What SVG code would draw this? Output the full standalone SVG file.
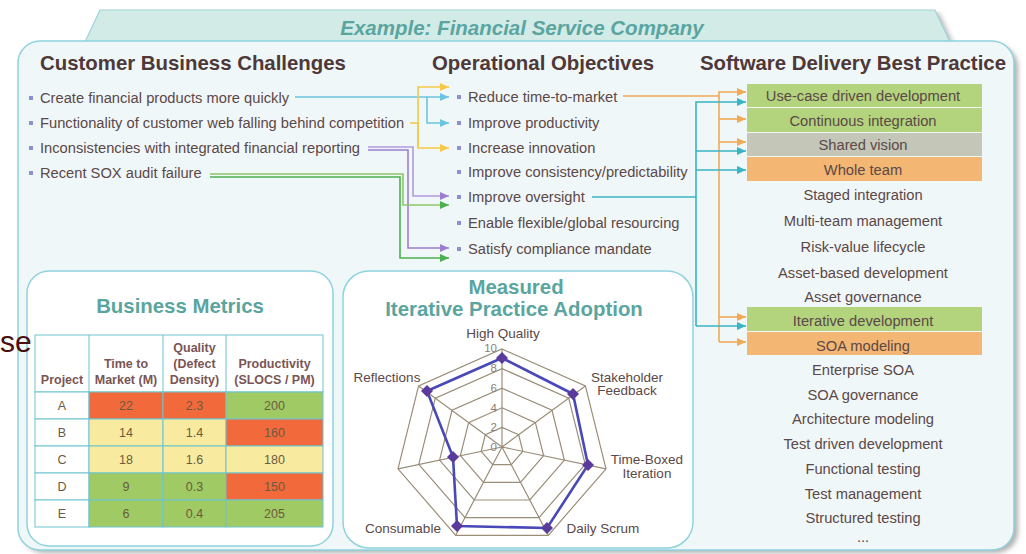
<svg xmlns="http://www.w3.org/2000/svg" width="1026" height="554" viewBox="0 0 1026 554">
<defs>
<style>
.t{font-family:"Liberation Sans",Arial,sans-serif;fill:#5b4848;font-size:14.7px}
.h{font-family:"Liberation Sans",Arial,sans-serif;font-weight:bold;font-size:20.4px;fill:#4e3838}
.c{text-anchor:middle}
.ti{font-family:"Liberation Sans",Arial,sans-serif;font-weight:bold;fill:#5aa5a0;text-anchor:middle}
.b{fill:#8c8fd0}
.th{font-family:"Liberation Sans",Arial,sans-serif;font-weight:bold;font-size:12.5px;fill:#7a5555;text-anchor:middle}
.tv{font-family:"Liberation Sans",Arial,sans-serif;font-size:12.5px;fill:#6b5a3f;text-anchor:middle}
.cell{stroke:#6cc4cf;stroke-width:1}
.r{fill:#f26a3c}.y{fill:#f8eba0}.g{fill:#a0cb64}.w{fill:#ffffff}
.grid{fill:none;stroke:#9a8e78;stroke-width:1.2}
.ax{font-family:"Liberation Sans",Arial,sans-serif;font-size:13.5px;fill:#5b4848;text-anchor:middle}
.sc{font-family:"Liberation Sans",Arial,sans-serif;font-size:11.5px;fill:#8a7f78;text-anchor:end}
.ln{fill:none;stroke-width:1.6}
.blue{stroke:#6cc5e0}.yel{stroke:#f7c948}.pur{stroke:#9c7fd0}.pur2{stroke:#b09ae0}.grn{stroke:#4cb050}.grn2{stroke:#8cc868}.org{stroke:#f0a955}.teal{stroke:#38b4c4}
.pt{fill:#5a3a9a}
</style>
<marker id="aB" viewBox="0 0 9 8" refX="9" refY="4" markerWidth="9" markerHeight="8" markerUnits="userSpaceOnUse" orient="auto"><path d="M0,0 L9,4 L0,8 z" fill="#6cc5e0"/></marker>
<marker id="aY" viewBox="0 0 9 8" refX="9" refY="4" markerWidth="9" markerHeight="8" markerUnits="userSpaceOnUse" orient="auto"><path d="M0,0 L9,4 L0,8 z" fill="#f7c948"/></marker>
<marker id="aP" viewBox="0 0 9 8" refX="9" refY="4" markerWidth="9" markerHeight="8" markerUnits="userSpaceOnUse" orient="auto"><path d="M0,0 L9,4 L0,8 z" fill="#9c7fd0"/></marker>
<marker id="aG" viewBox="0 0 9 8" refX="9" refY="4" markerWidth="9" markerHeight="8" markerUnits="userSpaceOnUse" orient="auto"><path d="M0,0 L9,4 L0,8 z" fill="#4cb050"/></marker>
<marker id="aO" viewBox="0 0 9 8" refX="9" refY="4" markerWidth="9" markerHeight="8" markerUnits="userSpaceOnUse" orient="auto"><path d="M0,0 L9,4 L0,8 z" fill="#f0a955"/></marker>
<marker id="aT" viewBox="0 0 9 8" refX="9" refY="4" markerWidth="9" markerHeight="8" markerUnits="userSpaceOnUse" orient="auto"><path d="M0,0 L9,4 L0,8 z" fill="#38b4c4"/></marker>
<filter id="sh" x="-5%" y="-5%" width="110%" height="110%"><feGaussianBlur stdDeviation="2.5"/></filter>
</defs>
<rect width="1026" height="554" fill="#ffffff"/>

<!-- tab -->
<g id="tab">
<path d="M104,13 L939,13 L954,45 L89,45 Z" fill="#b8b8b8" filter="url(#sh)"/>
<path d="M100,10 L935,10 L950,42 L85,42 Z" fill="#d3ebe7" stroke="#9fd3dc" stroke-width="1.2"/>
<text x="522" y="35" class="ti" font-style="italic" font-size="20.5">Example: Financial Service Company</text>
</g>

<!-- main panel -->
<g id="panel">
<rect x="22" y="45" width="996" height="508" rx="22" fill="#b0b0b0" filter="url(#sh)"/>
<rect x="18" y="41" width="996" height="509" rx="22" fill="#f0f7f8" stroke="#8fd3de" stroke-width="1.5"/>
</g>

<!-- headers -->
<text x="40" y="70" class="h">Customer Business Challenges</text>
<text x="432" y="70" class="h">Operational Objectives</text>
<text x="700" y="70" class="h">Software Delivery Best Practice</text>

<!-- challenges -->
<g id="challenges">
<rect x="29" y="96" width="4" height="4" class="b"/><text x="40" y="103" class="t">Create financial products more quickly</text>
<rect x="29" y="121" width="4" height="4" class="b"/><text x="40" y="128" class="t">Functionality of customer web falling behind competition</text>
<rect x="29" y="146" width="4" height="4" class="b"/><text x="40" y="153" class="t">Inconsistencies with integrated financial reporting</text>
<rect x="29" y="171" width="4" height="4" class="b"/><text x="40" y="178" class="t">Recent SOX audit failure</text>
</g>

<!-- objectives -->
<g id="objectives">
<rect x="457" y="95" width="4" height="4" class="b"/><text x="468" y="102" class="t">Reduce time-to-market</text>
<rect x="457" y="121" width="4" height="4" class="b"/><text x="468" y="128" class="t">Improve productivity</text>
<rect x="457" y="146" width="4" height="4" class="b"/><text x="468" y="153" class="t">Increase innovation</text>
<rect x="457" y="170" width="4" height="4" class="b"/><text x="468" y="177" class="t">Improve consistency/predictability</text>
<rect x="457" y="195" width="4" height="4" class="b"/><text x="468" y="202" class="t">Improve oversight</text>
<rect x="457" y="221" width="4" height="4" class="b"/><text x="468" y="228" class="t">Enable flexible/global resourcing</text>
<rect x="457" y="247" width="4" height="4" class="b"/><text x="468" y="254" class="t">Satisfy compliance mandate</text>
</g>

<!-- practices -->
<g id="practices">
<rect x="747" y="84" width="235" height="23" fill="#b3d47c"/>
<rect x="747" y="108" width="235" height="24" fill="#b3d47c"/>
<rect x="747" y="133" width="235" height="23" fill="#c4c7b8"/>
<rect x="747" y="157" width="235" height="24" fill="#f4b673"/>
<rect x="747" y="307" width="235" height="24" fill="#b3d47c"/>
<rect x="747" y="332" width="235" height="23" fill="#f4b673"/>
<text x="863" y="101" class="t c">Use-case driven development</text>
<text x="863" y="126" class="t c">Continuous integration</text>
<text x="863" y="150" class="t c">Shared vision</text>
<text x="863" y="175" class="t c">Whole team</text>
<text x="863" y="200" class="t c">Staged integration</text>
<text x="863" y="226" class="t c">Multi-team management</text>
<text x="863" y="252" class="t c">Risk-value lifecycle</text>
<text x="863" y="278" class="t c">Asset-based development</text>
<text x="863" y="302" class="t c">Asset governance</text>
<text x="863" y="326" class="t c">Iterative development</text>
<text x="863" y="351" class="t c">SOA modeling</text>
<text x="863" y="375" class="t c">Enterprise SOA</text>
<text x="863" y="400" class="t c">SOA governance</text>
<text x="863" y="424" class="t c">Architecture modeling</text>
<text x="863" y="449" class="t c">Test driven development</text>
<text x="863" y="474" class="t c">Functional testing</text>
<text x="863" y="499" class="t c">Test management</text>
<text x="863" y="523" class="t c">Structured testing</text>
<text x="863" y="542" class="t c" font-size="11" fill="#6a8ac8">...</text>
</g>

<!-- connectors -->
<g id="connectors">
<path d="M295,97 H449" class="ln blue" marker-end="url(#aB)"/>
<path d="M427,97 V123 H449" class="ln blue" marker-end="url(#aB)"/>
<path d="M410,123 H418" class="ln yel"/>
<path d="M418,148 V87 H449" class="ln yel" marker-end="url(#aY)"/>
<path d="M418,123 V148 H449" class="ln yel" marker-end="url(#aY)"/>
<path d="M368,147 H413 V196 H449" class="ln pur2" marker-end="url(#aP)"/>
<path d="M368,150 H408 V248 H449" class="ln pur" marker-end="url(#aP)"/>
<path d="M210,174 H403 V205 H449" class="ln grn2" marker-end="url(#aG)"/>
<path d="M210,177 H400 V258 H449" class="ln grn" marker-end="url(#aG)"/>
<path d="M623,96 H719" class="ln org"/>
<path d="M719,342 V92 H746" class="ln org" marker-end="url(#aO)"/>
<path d="M719,119 H746" class="ln org" marker-end="url(#aO)"/>
<path d="M719,142 H746" class="ln org" marker-end="url(#aO)"/>
<path d="M719,317 H746" class="ln org" marker-end="url(#aO)"/>
<path d="M719,342 H746" class="ln org" marker-end="url(#aO)"/>
<path d="M592,197 H696" class="ln teal"/>
<path d="M696,326 V102 H746" class="ln teal" marker-end="url(#aT)"/>
<path d="M696,151 H746" class="ln teal" marker-end="url(#aT)"/>
<path d="M696,170 H746" class="ln teal" marker-end="url(#aT)"/>
<path d="M696,326 H746" class="ln teal" marker-end="url(#aT)"/>
</g>

<!-- business metrics -->
<g id="metrics">
<rect x="27" y="271" width="306" height="275" rx="22" fill="#ffffff" stroke="#8fd3de" stroke-width="1.5"/>
<text x="180" y="313" class="ti" font-size="20.4">Business Metrics</text>
<rect x="35" y="335" width="288" height="57" class="w cell"/>
<line x1="89" y1="335" x2="89" y2="392" class="cell"/>
<line x1="163" y1="335" x2="163" y2="392" class="cell"/>
<line x1="226" y1="335" x2="226" y2="392" class="cell"/>
<text x="62" y="384" class="th">Project</text>
<text x="126" y="368" class="th">Time to</text>
<text x="126" y="384" class="th">Market (M)</text>
<text x="194.5" y="352" class="th">Quality</text>
<text x="194.5" y="368" class="th">(Defect</text>
<text x="194.5" y="384" class="th">Density)</text>
<text x="274.5" y="368" class="th">Productivity</text>
<text x="274.5" y="384" class="th">(SLOCS / PM)</text>

<rect x="35" y="392" width="54" height="27" class="w cell"/><rect x="89" y="392" width="74" height="27" class="r cell"/><rect x="163" y="392" width="63" height="27" class="r cell"/><rect x="226" y="392" width="97" height="27" class="g cell"/>
<rect x="35" y="419" width="54" height="27" class="w cell"/><rect x="89" y="419" width="74" height="27" class="y cell"/><rect x="163" y="419" width="63" height="27" class="y cell"/><rect x="226" y="419" width="97" height="27" class="r cell"/>
<rect x="35" y="446" width="54" height="27" class="w cell"/><rect x="89" y="446" width="74" height="27" class="y cell"/><rect x="163" y="446" width="63" height="27" class="y cell"/><rect x="226" y="446" width="97" height="27" class="y cell"/>
<rect x="35" y="473" width="54" height="27" class="w cell"/><rect x="89" y="473" width="74" height="27" class="g cell"/><rect x="163" y="473" width="63" height="27" class="g cell"/><rect x="226" y="473" width="97" height="27" class="r cell"/>
<rect x="35" y="500" width="54" height="27" class="w cell"/><rect x="89" y="500" width="74" height="27" class="g cell"/><rect x="163" y="500" width="63" height="27" class="g cell"/><rect x="226" y="500" width="97" height="27" class="g cell"/>

<text x="62" y="410" class="tv">A</text><text x="126" y="410" class="tv">22</text><text x="194.5" y="410" class="tv">2.3</text><text x="274.5" y="410" class="tv">200</text>
<text x="62" y="437" class="tv">B</text><text x="126" y="437" class="tv">14</text><text x="194.5" y="437" class="tv">1.4</text><text x="274.5" y="437" class="tv">160</text>
<text x="62" y="464" class="tv">C</text><text x="126" y="464" class="tv">18</text><text x="194.5" y="464" class="tv">1.6</text><text x="274.5" y="464" class="tv">180</text>
<text x="62" y="491" class="tv">D</text><text x="126" y="491" class="tv">9</text><text x="194.5" y="491" class="tv">0.3</text><text x="274.5" y="491" class="tv">150</text>
<text x="62" y="518" class="tv">E</text><text x="126" y="518" class="tv">6</text><text x="194.5" y="518" class="tv">0.4</text><text x="274.5" y="518" class="tv">205</text>
</g>

<text x="0" y="352" font-family="Liberation Sans, Arial, sans-serif" font-size="30" fill="#4a1010">se</text>

<!-- radar -->
<g id="radar">
<rect x="343" y="271" width="350" height="277" rx="26" fill="#ffffff" stroke="#8fd3de" stroke-width="1.5"/>
<text x="516" y="294" class="ti" font-size="20.4">Measured</text>
<text x="514" y="316" class="ti" font-size="20.4">Iterative Practice Adoption</text>
<polygon class="grid" points="502,349 585.4,385.9 606,468.8 548.3,535.3 455.7,535.3 398,468.8 418.6,385.9"/>
<polygon class="grid" points="502,368.6 568.7,398.1 585.2,464.4 539,517.6 465,517.6 418.8,464.4 435.3,398.1"/>
<polygon class="grid" points="502,388.2 552,410.3 564.4,460.1 529.8,500 474.2,500 439.6,460.1 452,410.3"/>
<polygon class="grid" points="502,407.8 535.4,422.6 543.6,455.7 520.5,482.3 483.5,482.3 460.4,455.7 468.6,422.6"/>
<polygon class="grid" points="502,427.4 518.7,434.8 522.8,451.4 511.3,464.7 492.7,464.7 481.2,451.4 485.3,434.8"/>
<path class="grid" d="M502,447 L502,349 M502,447 L585.4,385.9 M502,447 L606,468.8 M502,447 L548.3,535.3 M502,447 L455.7,535.3 M502,447 L398,468.8 M502,447 L418.6,385.9"/>
<text x="497" y="352" class="sc">10</text>
<text x="497" y="372" class="sc">8</text>
<text x="497" y="392" class="sc">6</text>
<text x="497" y="412" class="sc">4</text>
<text x="497" y="431" class="sc">2</text>
<text x="497" y="451" class="sc">0</text>
<polygon points="502,358 573,394 588,465 547,528 457,526 453,457 427,391" fill="none" stroke="#4848b8" stroke-width="2.6"/>
<g class="pt">
<path d="M502,352 l6,6 l-6,6 l-6,-6z"/>
<path d="M573,388 l6,6 l-6,6 l-6,-6z"/>
<path d="M588,459 l6,6 l-6,6 l-6,-6z"/>
<path d="M547,522 l6,6 l-6,6 l-6,-6z"/>
<path d="M457,520 l6,6 l-6,6 l-6,-6z"/>
<path d="M453,451 l6,6 l-6,6 l-6,-6z"/>
<path d="M427,385 l6,6 l-6,6 l-6,-6z"/>
</g>
<text x="503" y="338" class="ax">High Quality</text>
<text x="387" y="382" class="ax">Reflections</text>
<text x="627" y="382" class="ax">Stakeholder</text>
<text x="627" y="395" class="ax">Feedback</text>
<text x="647" y="464" class="ax">Time-Boxed</text>
<text x="647" y="478" class="ax">Iteration</text>
<text x="403" y="533" class="ax">Consumable</text>
<text x="603" y="533" class="ax">Daily Scrum</text>
</g>
</svg>
